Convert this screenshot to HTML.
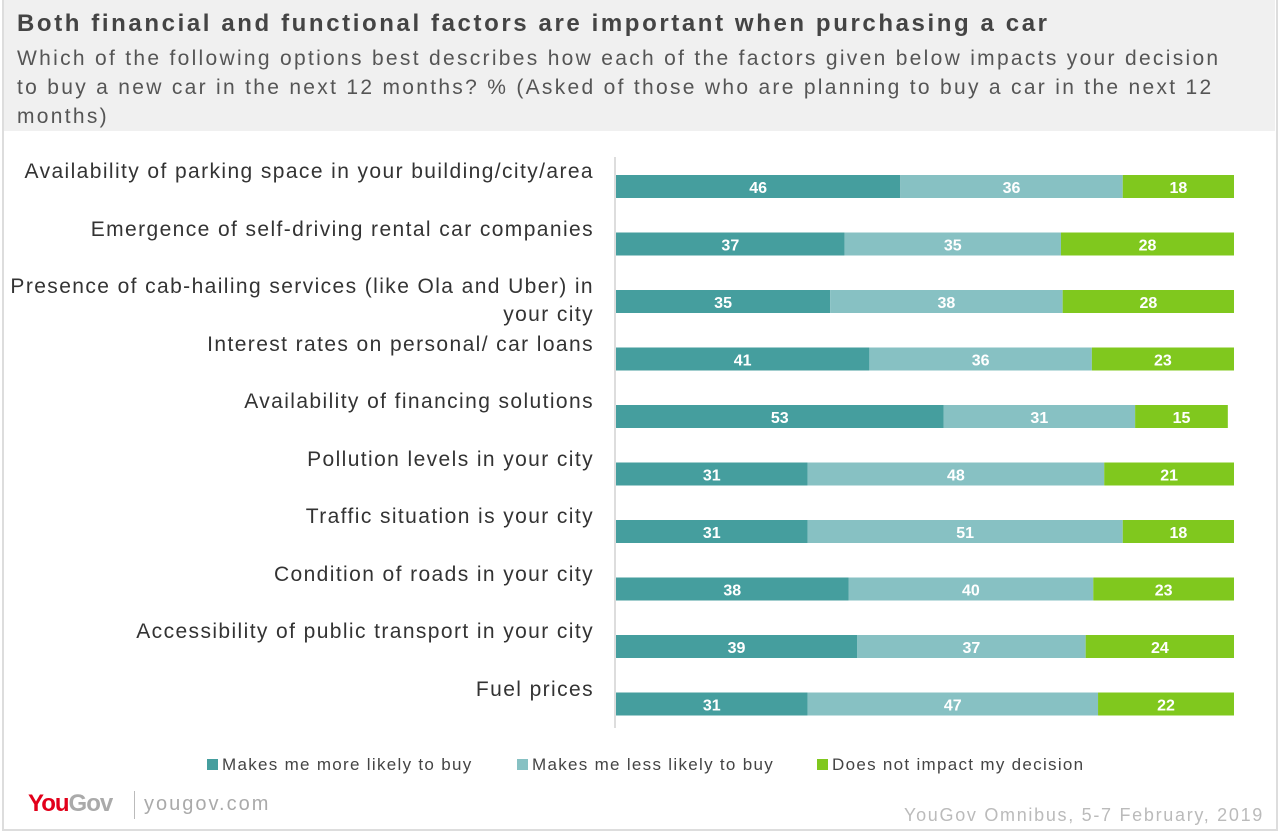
<!DOCTYPE html>
<html><head><meta charset="utf-8">
<style>
body{margin:0;width:1279px;height:840px;background:#fff;font-family:"Liberation Sans",sans-serif;overflow:hidden;position:relative}
#frame{position:absolute;left:2px;top:0;width:1272px;height:829px;border:2px solid #ddd;border-top:none;box-sizing:content-box}
#header{position:absolute;left:4px;top:0;width:1271px;height:131px;background:#f0f0f0}
#title{position:absolute;left:17px;top:10px;font-size:24px;font-weight:bold;color:#444;letter-spacing:2.6px;white-space:nowrap}
#subtitle{position:absolute;left:17px;top:44px;width:1232px;font-size:21px;line-height:29px;color:#555;letter-spacing:2.3px}
.lbl{position:absolute;right:685px;text-align:right;font-size:21px;line-height:28px;color:#333;width:590px;letter-spacing:1.4px}
.leg{position:absolute;top:755px;font-size:17px;color:#444;letter-spacing:1.3px}
.sw{display:inline-block;width:11px;height:11px;margin-right:4px;vertical-align:0}
</style></head><body>
<div id="frame"></div>
<div id="header"></div>
<div id="title">Both financial and functional factors are important when purchasing a car</div>
<div id="subtitle">Which of the following options best describes how each of the factors given below impacts your decision to buy a new car in the next 12 months? % (Asked of those who are planning to buy a car in the next 12 months)</div>
<div id="labels"></div>
<svg id="chart" width="1279" height="840" style="position:absolute;left:0;top:0"></svg>
<div class="leg" style="left:207px"><span class="sw" style="background:#459e9e"></span>Makes me more likely to buy</div>
<div class="leg" style="left:517px"><span class="sw" style="background:#87c1c3"></span>Makes me less likely to buy</div>
<div class="leg" style="left:817px"><span class="sw" style="background:#80c81e"></span>Does not impact my decision</div>
<div style="position:absolute;left:28px;top:790px;font-size:24px;font-weight:bold;letter-spacing:-1px"><span style="color:#e2001a">You</span><span style="color:#aaa">Gov</span></div>
<div style="position:absolute;left:134px;top:791px;width:1px;height:28px;background:#bbb"></div>
<div style="position:absolute;left:144px;top:793px;font-size:20px;color:#aaa;letter-spacing:2px">yougov.com</div>
<div style="position:absolute;right:15px;top:805px;font-size:18px;color:#bbb;letter-spacing:1.7px">YouGov Omnibus, 5-7 February, 2019</div>
<script>
const categories=["Availability of parking space in your building/city/area","Emergence of self-driving rental car companies","Presence of cab-hailing services (like Ola and Uber) in your city","Interest rates on personal/ car loans","Availability of financing solutions","Pollution levels in your city","Traffic situation is your city","Condition of roads in your city","Accessibility of public transport in your city","Fuel prices"];
const moreLikely=[46,37,35,41,53,31,31,38,39,31];
const lessLikely=[36,35,38,36,31,48,51,40,37,47];
const noImpact=[18,28,28,23,15,21,18,23,24,22];
const seriesColors=["#459e9e","#87c1c3","#80c81e"];
const seriesNames=["more-likely","less-likely","no-impact"];
const X0=616,W=618,Y0=175,STEP=57.5,BH=23;
const ys=i=>Y0+i*STEP;
const svg=document.getElementById('chart'),NS="http://www.w3.org/2000/svg";
const ax=document.createElementNS(NS,'line');
ax.setAttribute('x1',615);ax.setAttribute('x2',615);ax.setAttribute('y1',157);ax.setAttribute('y2',728);
ax.setAttribute('stroke','#ddd');ax.setAttribute('stroke-width',2);


svg.appendChild(ax);
const labels=document.getElementById('labels');
categories.forEach((c,i)=>{
  const d=document.createElement('div');d.className='lbl';
  
  
  d.textContent=c;d.style.top=(ys(i)-17)+'px';labels.appendChild(d);
  const vals=[moreLikely[i],lessLikely[i],noImpact[i]];
  const total=Math.max(100,vals[0]+vals[1]+vals[2]);
  const PX=W/total, xs=v=>X0+v*PX;
  let acc=0;
  vals.forEach((v,s)=>{
    const r=document.createElementNS(NS,'rect');
    r.setAttribute('x',xs(acc));r.setAttribute('y',ys(i));r.setAttribute('width',v*PX);r.setAttribute('height',BH);
    r.setAttribute('fill',seriesColors[s]);
    
    
    svg.appendChild(r);
    const t=document.createElementNS(NS,'text');
    t.setAttribute('x',xs(acc+v/2));t.setAttribute('y',ys(i)+18);t.setAttribute('text-anchor','middle');
    t.setAttribute('fill','#fff');t.setAttribute('font-size','16');t.setAttribute('font-weight','bold');
    t.setAttribute('font-family','Liberation Sans, sans-serif');
    
    
    t.textContent=v;svg.appendChild(t);
    acc+=v;
  });
});
</script>
</body></html>
